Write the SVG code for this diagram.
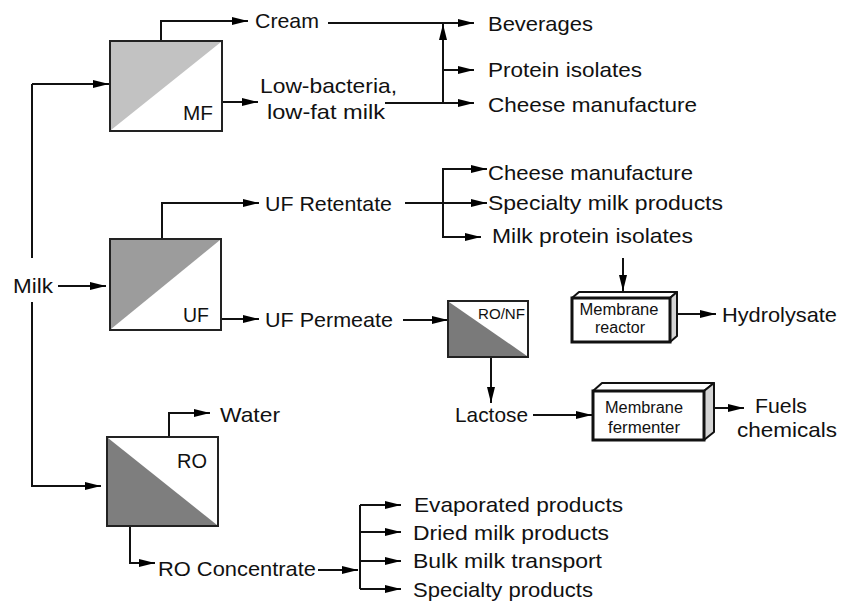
<svg xmlns="http://www.w3.org/2000/svg" width="844" height="603" viewBox="0 0 844 603">
<defs>
<marker id="ah" markerUnits="userSpaceOnUse" markerWidth="17" markerHeight="9" refX="16" refY="4" orient="auto">
<path d="M0,0 L16,4 L0,8 z" fill="#000"/>
</marker>
<style>
text{font-family:"Liberation Sans",Arial,Helvetica,sans-serif;font-size:21px;fill:#111}
.sm{font-size:16px}
.xs{font-size:14px}
.box{fill:#fff;stroke:#222;stroke-width:2}
.c{fill:none;stroke:#111;stroke-width:2}
.a{fill:none;stroke:#111;stroke-width:2;marker-end:url(#ah)}
.front{fill:#fff;stroke:#111;stroke-width:3}
.face{fill:#fff;stroke:#111;stroke-width:2;stroke-linejoin:round}
.side{fill:#d4d4d4;stroke:#111;stroke-width:2;stroke-linejoin:round}
</style>
</defs>
<rect width="844" height="603" fill="#fff"/>

<g id="connectors">
<path class="c" d="M32,258 V84"/>
<path class="a" d="M32,84 H109"/>
<path class="a" d="M58,286 H106"/>
<path class="a" d="M32,302 V486 H101"/>
<path class="a" d="M161,41 V21 H248"/>
<path class="a" d="M222,102 H258"/>
<path class="a" d="M328,23 H474"/>
<path class="a" d="M443,103 V24"/>
<path class="a" d="M443,70 H474"/>
<path class="a" d="M385,103 H474"/>
<path class="a" d="M162,239 V203 H259"/>
<path class="a" d="M405,203 H487"/>
<path class="a" d="M443,203 V169 H487"/>
<path class="a" d="M443,203 V237 H481"/>
<path class="a" d="M222,319 H259"/>
<path class="a" d="M403,320 H448"/>
<path class="a" d="M623,258 V291"/>
<path class="a" d="M677,314 H716"/>
<path class="a" d="M491,357 V403"/>
<path class="a" d="M533,415 H592"/>
<path class="a" d="M705,408 H744"/>
<path class="a" d="M169,437 V413 H210"/>
<path class="a" d="M130,526 V563 H155"/>
<path class="a" d="M318,570 H358"/>
<path class="c" d="M360,505 V589"/>
<path class="a" d="M360,505 H401"/>
<path class="a" d="M360,532 H401"/>
<path class="a" d="M360,561 H401"/>
<path class="a" d="M360,589 H401"/>
</g>

<g id="mf">
<rect class="box" x="110" y="41" width="112" height="90"/>
<polygon points="111,42 221,42 111,130" fill="#c2c2c2"/>
<text x="183" y="120" textLength="30" lengthAdjust="spacingAndGlyphs">MF</text>
</g>

<g id="uf">
<rect class="box" x="110" y="239" width="111" height="91"/>
<polygon points="111,240 220,240 111,329" fill="#9c9c9c"/>
<text x="183" y="322" textLength="26" lengthAdjust="spacingAndGlyphs">UF</text>
</g>

<g id="ro">
<rect class="box" x="107" y="437" width="111" height="89"/>
<polygon points="108,438 217,525 108,525" fill="#7e7e7e"/>
<text x="177" y="468" textLength="30" lengthAdjust="spacingAndGlyphs">RO</text>
</g>

<g id="ronf">
<rect class="box" x="448" y="301" width="80" height="56"/>
<polygon points="449,302 527,356 449,356" fill="#7a7a7a"/>
<text class="xs" x="478" y="319" textLength="47" lengthAdjust="spacingAndGlyphs">RO/NF</text>
</g>

<g id="membrane-reactor">
<polygon class="face" points="572,298 579,292 677,292 670,298"/>
<polygon class="side" points="670,298 677,292 677,336 670,342"/>
<rect class="front" x="572" y="298" width="98" height="44"/>
<text class="sm" x="619" y="315" text-anchor="middle" textLength="79" lengthAdjust="spacingAndGlyphs">Membrane</text>
<text class="sm" x="620" y="333" text-anchor="middle" textLength="50" lengthAdjust="spacingAndGlyphs">reactor</text>
</g>

<g id="membrane-fermenter">
<polygon class="face" points="593,391 602,383 714,383 704,391"/>
<polygon class="side" points="704,391 714,383 714,432 704,440"/>
<rect class="front" x="593" y="391" width="111" height="49"/>
<text class="sm" x="605" y="413" textLength="78" lengthAdjust="spacingAndGlyphs">Membrane</text>
<text class="sm" x="608" y="433" textLength="72" lengthAdjust="spacingAndGlyphs">fermenter</text>
</g>

<g id="milk"><text x="13" y="293" textLength="40" lengthAdjust="spacingAndGlyphs">Milk</text></g>
<g id="cream"><text x="255" y="28" textLength="64" lengthAdjust="spacingAndGlyphs">Cream</text></g>
<g id="beverages"><text x="488" y="31" textLength="105" lengthAdjust="spacingAndGlyphs">Beverages</text></g>
<g id="protein-isolates"><text x="488" y="77" textLength="154" lengthAdjust="spacingAndGlyphs">Protein isolates</text></g>
<g id="cheese-1"><text x="488" y="112" textLength="209" lengthAdjust="spacingAndGlyphs">Cheese manufacture</text></g>
<g id="low-fat-milk">
<text x="260" y="93" textLength="137" lengthAdjust="spacingAndGlyphs">Low-bacteria,</text>
<text x="267" y="119" textLength="118" lengthAdjust="spacingAndGlyphs">low-fat milk</text>
</g>
<g id="uf-retentate"><text x="265" y="211" textLength="127" lengthAdjust="spacingAndGlyphs">UF Retentate</text></g>
<g id="uf-permeate"><text x="265" y="327" textLength="128" lengthAdjust="spacingAndGlyphs">UF Permeate</text></g>
<g id="cheese-2"><text x="488" y="180" textLength="205" lengthAdjust="spacingAndGlyphs">Cheese manufacture</text></g>
<g id="specialty-milk"><text x="488" y="210" textLength="235" lengthAdjust="spacingAndGlyphs">Specialty milk products</text></g>
<g id="milk-protein"><text x="492" y="243" textLength="201" lengthAdjust="spacingAndGlyphs">Milk protein isolates</text></g>
<g id="hydrolysate"><text x="722" y="322" textLength="115" lengthAdjust="spacingAndGlyphs">Hydrolysate</text></g>
<g id="lactose"><text x="455" y="422" textLength="73" lengthAdjust="spacingAndGlyphs">Lactose</text></g>
<g id="fuels">
<text x="755" y="413" textLength="52" lengthAdjust="spacingAndGlyphs">Fuels</text>
<text x="737" y="437" textLength="100" lengthAdjust="spacingAndGlyphs">chemicals</text>
</g>
<g id="water"><text x="220" y="422" textLength="60" lengthAdjust="spacingAndGlyphs">Water</text></g>
<g id="ro-concentrate"><text x="158" y="576" textLength="158" lengthAdjust="spacingAndGlyphs">RO Concentrate</text></g>
<g id="evaporated"><text x="414" y="512" textLength="209" lengthAdjust="spacingAndGlyphs">Evaporated products</text></g>
<g id="dried"><text x="413" y="540" textLength="196" lengthAdjust="spacingAndGlyphs">Dried milk products</text></g>
<g id="bulk"><text x="413" y="568" textLength="189" lengthAdjust="spacingAndGlyphs">Bulk milk transport</text></g>
<g id="specialty"><text x="413" y="597" textLength="180" lengthAdjust="spacingAndGlyphs">Specialty products</text></g>
</svg>
